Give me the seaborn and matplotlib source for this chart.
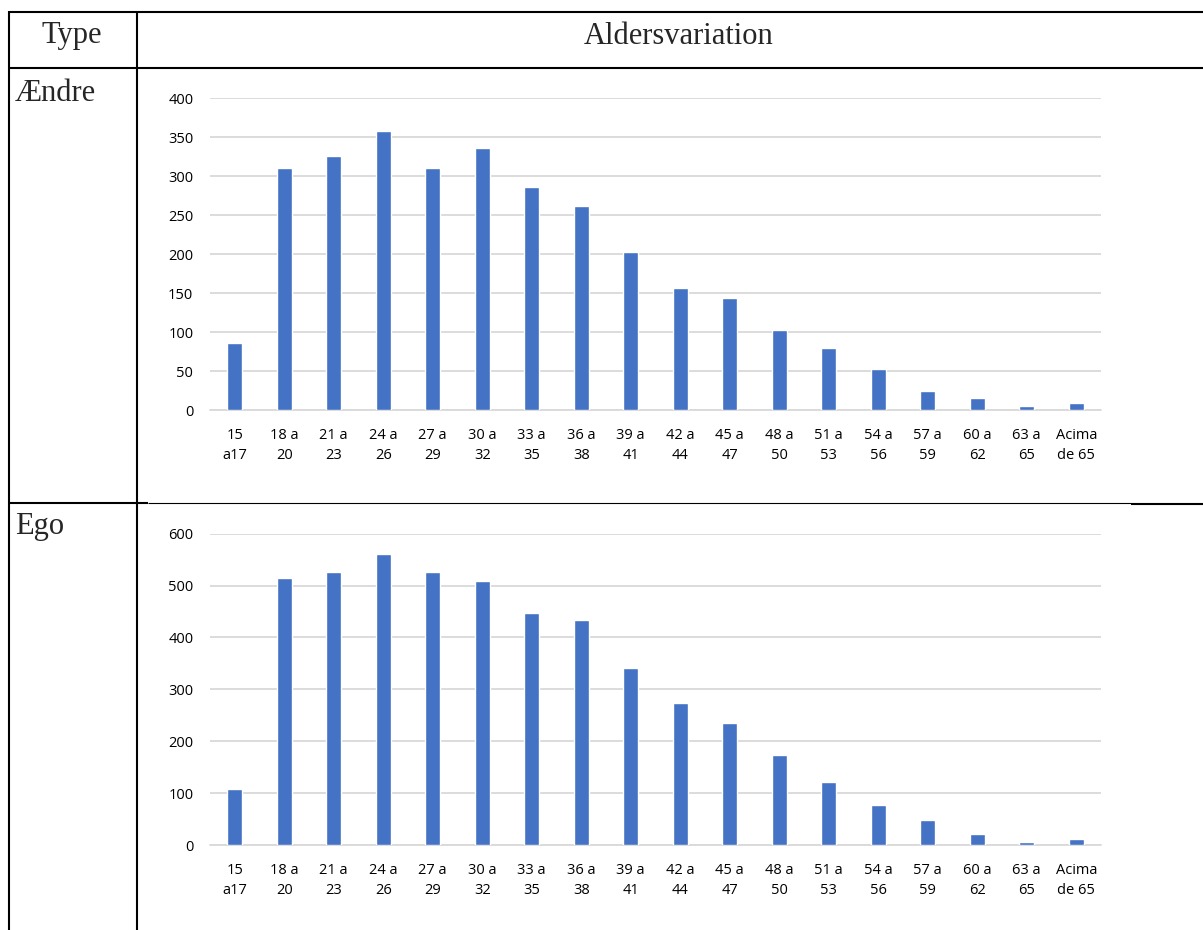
import matplotlib
matplotlib.use("Agg")
import matplotlib.pyplot as plt
import seaborn as sns
from matplotlib.lines import Line2D

# age bands (x axis)
age_labels = ["15\na17", "18 a\n20", "21 a\n23", "24 a\n26", "27 a\n29", "30 a\n32",
              "33 a\n35", "36 a\n38", "39 a\n41", "42 a\n44", "45 a\n47", "48 a\n50",
              "51 a\n53", "54 a\n56", "57 a\n59", "60 a\n62", "63 a\n65", "Acima\nde 65"]

# values
aendre_values = [86, 310, 326, 358, 310, 336, 286, 262, 202, 156, 143, 102, 80, 52, 24, 15, 5, 9]
ego_values = [107, 515, 526, 560, 526, 509, 448, 433, 342, 273, 235, 173, 122, 78, 48, 21, 6, 12]

aendre_ticks = [0, 50, 100, 150, 200, 250, 300, 350, 400]
ego_ticks = [0, 100, 200, 300, 400, 500, 600]

BAR = "#4472C4"
GRID = "#D9D9D9"
W, H = 1203, 930

sns.set_style("white")
plt.rcParams["font.family"] = ["Open Sans", "DejaVu Sans"]

fig = plt.figure(figsize=(W / 100, H / 100), dpi=100)


def px_rect(left, right, top, bottom):
    return [left / W, 1 - bottom / H, (right - left) / W, (bottom - top) / H]


def bar_chart(rect, values, ticks):
    ax = fig.add_axes(rect)
    sns.barplot(x=list(range(len(values))), y=values, color=BAR, saturation=1,
                width=0.31, ax=ax, zorder=3)
    ax.set_xlim(-0.5, len(values) - 0.5)
    ax.set_ylim(ticks[0], ticks[-1])
    ax.set_yticks(ticks)
    ax.set_xticks(range(len(values)))
    ax.set_xticklabels(age_labels, linespacing=1.45)
    for s in ax.spines.values():
        s.set_visible(False)
    ax.yaxis.grid(True, color=GRID, linewidth=1.3, zorder=0)
    ax.set_axisbelow(True)
    ax.axhline(0, color=GRID, linewidth=1.3, zorder=2, clip_on=False)
    ax.tick_params(axis="y", length=0, pad=12, labelsize=10.5, labelcolor="#000000")
    ax.tick_params(axis="x", length=0, pad=13, labelsize=10.5, labelcolor="#000000")
    ax.set_xlabel("")
    ax.set_ylabel("")
    return ax


bar_chart(px_rect(210, 1101, 98, 410), aendre_values, aendre_ticks)
bar_chart(px_rect(210, 1101, 533.7, 845), ego_values, ego_ticks)

# table text
serif = ["Liberation Serif", "DejaVu Serif"]
fig.text(72 / W, 1 - 36 / H, "Type", family=serif, fontsize=22, ha="center", va="center")
fig.text(679 / W, 1 - 36 / H, "Aldersvariation", family=serif, fontsize=22,
         ha="center", va="center")
fig.text(15 / W, 1 - 101 / H, "Ændre", family=serif, fontsize=22, ha="left", va="baseline")
fig.text(15 / W, 1 - 534 / H, "Ego", family=serif, fontsize=22, ha="left", va="baseline")


# table borders
def line(x0, y0, x1, y1, lw):
    fig.add_artist(Line2D([x0 / W, x1 / W], [1 - y0 / H, 1 - y1 / H], color="black",
                          linewidth=lw, solid_capstyle="butt"))


line(9, 12, W, 12, 1.5)
line(9, 68, W, 68, 1.5)
line(9, 11, 9, H, 1.5)
line(137, 11, 137, H, 1.5)
line(9, 503.3, 148, 503.3, 1.5)
line(148, 503.3, 1131, 503.3, 0.8)
line(1131, 503.6, W, 503.6, 1.5)

fig.savefig("out.png", dpi=100)
